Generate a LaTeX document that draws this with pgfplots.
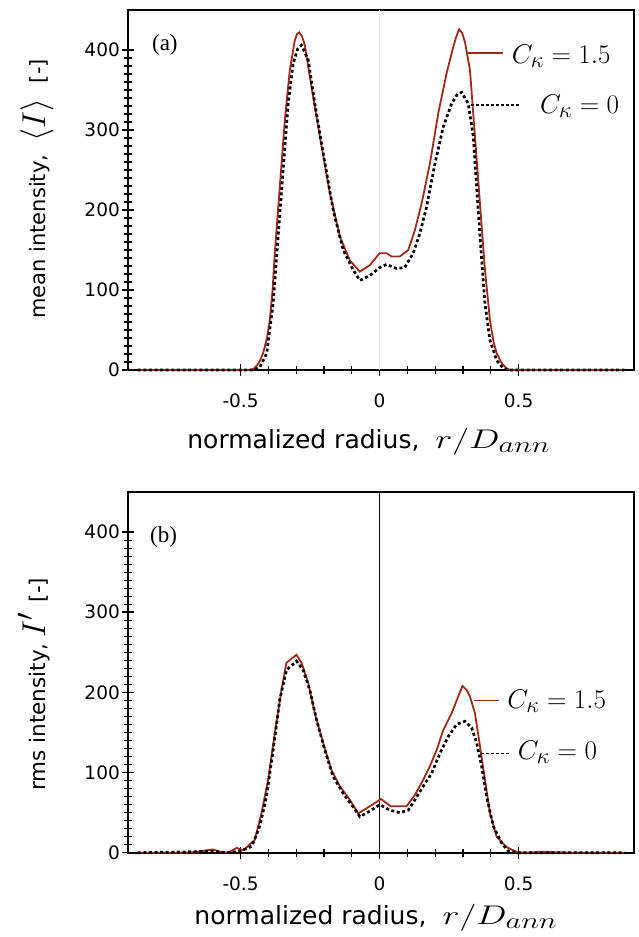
\documentclass[border=0pt]{standalone}
\usepackage{fontspec}
\setmainfont{DejaVu Sans}
\newfontfamily\serifit{Liberation Serif}
\usepackage{pgfplots}
\pgfplotsset{compat=1.18}
\definecolor{myred}{RGB}{158,42,28}
\tikzset{
  redline/.style={myred, line width=1.8pt},
  blackdot/.style={black, line width=2.7pt, dash pattern=on 3pt off 2.6pt},
}
\newcommand{\mbx}[3]{\scalebox{#1}[#2]{\fontsize{24.88}{28}\selectfont$#3$}}
\newcommand{\xlab}{\fontsize{25}{30}\selectfont normalized radius,\hspace{16pt}\mbx{1.46}{1.085}{r/D_{ann}}}
\newcommand{\legm}[1]{\mbx{1.085}{1.085}{#1}}
\pgfplotsset{
  myaxis/.style={
    scale only axis, width=506pt,
    xmin=-0.905, xmax=0.915, ymin=0, ymax=450,
    xtick={-0.5,0,0.5}, xticklabels={-0.5,0,0.5},
    ytick={0,100,200,300,400},
    minor x tick num=4, minor y tick num=9,
    tick pos=left, tick align=center,
    major tick length=12pt, minor tick length=8pt,
    every tick/.style={black, line width=1.5pt},
    minor tick style={line width=1.1pt},
    axis line style={line width=2.2pt},
    /pgf/number format/assume math mode=true,
    ticklabel style={font=\fontsize{18.5}{22}\selectfont},
    yticklabel style={inner sep=0pt, xshift=-2pt},
    xticklabel style={inner sep=0pt, yshift=-18pt},
    clip=false,
  },
}
\begin{document}
\begin{tikzpicture}
\useasboundingbox (0pt,0pt) rectangle (638pt,-937pt);
% ---------- (a) ----------
\begin{axis}[myaxis, height=360pt,
  at={(128pt,-370pt)}, anchor=south west,
  xlabel={\xlab},
  xlabel style={at={(rel axis cs:0.476,-0.2167)}, anchor=base, inner sep=0pt},
  ylabel={\fontsize{21}{26}\selectfont mean intensity,\hspace{13pt}\mbx{1.33}{1.33}{\langle I\rangle}\hspace{16pt}[-]},
  ylabel style={at={(rel axis cs:-0.164,0.503)}, anchor=base, inner sep=0pt},
]
\addplot[gray!20, line width=0.8pt] coordinates {(0,0) (0,450)};
\addplot[redline] coordinates {
(-0.87,0) (-0.47,0) (-0.455,1) (-0.44,6) (-0.43,12) (-0.419,21) (-0.405,40) (-0.395,62) (-0.385,100) (-0.377,146) (-0.359,229) (-0.341,312) (-0.323,375) (-0.305,412) (-0.297,420) (-0.289,422) (-0.279,417) (-0.269,406) (-0.245,354) (-0.215,292) (-0.179,221) (-0.143,167) (-0.107,137) (-0.071,123) (-0.035,131) (0.0,146) (0.025,146) (0.043,142) (0.073,142) (0.103,150) (0.127,175) (0.151,208) (0.181,258) (0.211,321) (0.241,371) (0.265,404) (0.277,418) (0.286,426) (0.297,421) (0.307,410) (0.325,375) (0.343,292) (0.361,208) (0.379,125) (0.397,62) (0.41,35) (0.421,21) (0.44,8) (0.457,2) (0.47,0) (0.88,0)};
\addplot[blackdot] coordinates {
(-0.87,0) (-0.45,0) (-0.43,4) (-0.406,21) (-0.383,83) (-0.365,167) (-0.347,250) (-0.329,333) (-0.311,383) (-0.295,401) (-0.281,406) (-0.257,388) (-0.233,333) (-0.203,271) (-0.167,200) (-0.131,150) (-0.095,125) (-0.071,112) (-0.035,118) (0.0,128) (0.025,132) (0.06,127) (0.09,128) (0.121,146) (0.145,171) (0.169,204) (0.199,258) (0.229,304) (0.259,333) (0.28,345) (0.295,347) (0.319,333) (0.337,292) (0.349,229) (0.361,167) (0.379,83) (0.397,37) (0.421,12) (0.445,2) (0.46,0) (0.88,0)};
\draw[redline, line width=1.6pt] (axis cs:0.318,396) -- (axis cs:0.443,396);
\draw[black, line width=1.6pt, dash pattern=on 3pt off 2pt] (axis cs:0.33,331) -- (axis cs:0.508,331);
\node[anchor=base west, inner sep=0pt] at (axis cs:0.475,383) {\legm{C_\kappa=1.5}};
\node[anchor=base west, inner sep=0pt] at (axis cs:0.577,321) {\legm{C_\kappa=0}};
\node[anchor=base west, inner sep=0pt, font=\serifit\fontsize{23}{26}\selectfont] at (axis cs:-0.819,400) {(a)};
\end{axis}
% ---------- (b) ----------
\begin{axis}[myaxis, height=360.7pt,
  at={(128pt,-852.7pt)}, anchor=south west,
  xlabel={\xlab},
  xlabel style={at={(rel axis cs:0.49,-0.2)}, anchor=base, inner sep=0pt},
  ylabel={\fontsize{21.5}{26}\selectfont rms intensity,\hspace{6pt}\mbx{1.33}{1.33}{I'}\hspace{10pt}[-]},
  ylabel style={at={(rel axis cs:-0.164,0.467)}, anchor=base, inner sep=0pt},
]
\addplot[black, line width=0.8pt] coordinates {(0,0) (0,450)};
\addplot[redline] coordinates {
(-0.87,0) (-0.7,0) (-0.66,1) (-0.6,4) (-0.57,1) (-0.545,0) (-0.514,6) (-0.49,3) (-0.449,16) (-0.425,49) (-0.401,91) (-0.377,149) (-0.353,203) (-0.335,237) (-0.299,247) (-0.281,237) (-0.257,212) (-0.233,174) (-0.203,137) (-0.173,103) (-0.143,83) (-0.107,66) (-0.077,49) (-0.035,58) (0.005,67) (0.04,58) (0.097,58) (0.127,72) (0.157,91) (0.181,108) (0.205,128) (0.229,153) (0.259,174) (0.283,195) (0.298,208) (0.313,203) (0.325,195) (0.343,174) (0.361,133) (0.379,91) (0.397,49) (0.421,20) (0.457,7) (0.493,1) (0.5,0) (0.6,1) (0.7,0) (0.88,0)};
\addplot[blackdot] coordinates {
(-0.87,0) (-0.7,1) (-0.6,2) (-0.55,0) (-0.5,2) (-0.46,8) (-0.431,33) (-0.407,70) (-0.383,128) (-0.359,191) (-0.335,228) (-0.299,239) (-0.275,228) (-0.251,203) (-0.227,166) (-0.197,128) (-0.167,95) (-0.131,74) (-0.101,60) (-0.071,45) (-0.035,52) (0.001,60) (0.037,53) (0.073,50) (0.103,53) (0.127,66) (0.157,83) (0.187,99) (0.217,124) (0.247,145) (0.277,160) (0.307,164) (0.331,156) (0.349,137) (0.367,108) (0.385,70) (0.409,33) (0.439,12) (0.463,2) (0.5,0) (0.88,0)};
\draw[redline, line width=1.6pt] (axis cs:0.341,190) -- (axis cs:0.431,190);
\draw[black, line width=1.6pt, dash pattern=on 3pt off 2pt] (axis cs:0.366,124) -- (axis cs:0.468,124);
\node[anchor=base west, inner sep=0pt] at (axis cs:0.459,180.5) {\legm{C_\kappa=1.5}};
\node[anchor=base west, inner sep=0pt] at (axis cs:0.497,116) {\legm{C_\kappa=0}};
\node[anchor=base west, inner sep=0pt, font=\serifit\fontsize{23}{26}\selectfont] at (axis cs:-0.826,387) {(b)};
\end{axis}
\end{tikzpicture}
\end{document}
